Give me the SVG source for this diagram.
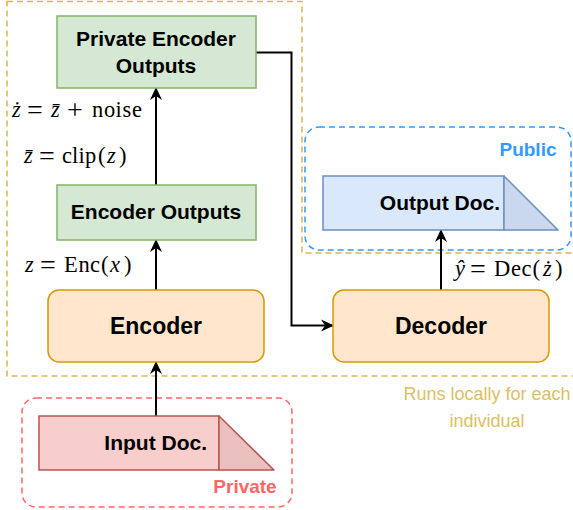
<svg xmlns="http://www.w3.org/2000/svg" width="573" height="510" viewBox="0 0 573 510">
  <style>
    .lbl { font-family: "Liberation Sans", Arial, sans-serif; font-weight: bold; fill: #000; }
    .math { font-family: "Liberation Serif", "Times New Roman", serif; font-size: 22.5px; fill: #000; }
    .mi { font-style: italic; }
    .op { font-size: 28px; }
    .green { fill: #d5e8d4; stroke: #82b366; stroke-width: 1.5; }
    .orange { fill: #ffe6cc; stroke: #d79b00; stroke-width: 1.5; }
    .edge { fill: none; stroke: #000; stroke-width: 2; }
  </style>
  <defs>
    <marker id="arrow" markerUnits="userSpaceOnUse" markerWidth="14" markerHeight="14" refX="12" refY="7" orient="auto">
      <path d="M0,1 L13,7 L0,13 L4,7 Z" fill="#000"/>
    </marker>
  </defs>

  <rect width="573" height="510" fill="#fff"/>

  <!-- group regions -->
  <g id="local-region">
    <path d="M7,1.5 H302 V253 H580 V376 H7 Z" fill="none" stroke="#d6b656" stroke-width="1.5" stroke-dasharray="6 4"/>
    <text x="487" y="400" text-anchor="middle" font-family="Liberation Sans, Arial, sans-serif" font-size="18" fill="#dcbf63">Runs locally for each</text>
    <text x="487" y="427" text-anchor="middle" font-family="Liberation Sans, Arial, sans-serif" font-size="18" fill="#dcbf63">individual</text>
  </g>
  <g id="public-region">
    <rect x="305" y="127" width="266" height="123" rx="14" fill="none" stroke="#3399ff" stroke-width="1.5" stroke-dasharray="6 4"/>
    <text x="528" y="155.5" text-anchor="middle" class="lbl" font-size="19" style="fill:#3399ff">Public</text>
  </g>
  <g id="private-region">
    <rect x="22" y="398" width="270" height="109" rx="14" fill="none" stroke="#ff6666" stroke-width="1.5" stroke-dasharray="6 4"/>
    <text x="245" y="492.5" text-anchor="middle" class="lbl" font-size="19" style="fill:#ff6666">Private</text>
  </g>

  <!-- connectors -->
  <g id="connectors">
    <line class="edge" x1="156" y1="416" x2="156" y2="362" marker-end="url(#arrow)"/>
    <line class="edge" x1="156" y1="290" x2="156" y2="240" marker-end="url(#arrow)"/>
    <line class="edge" x1="156" y1="185" x2="156" y2="88" marker-end="url(#arrow)"/>
    <polyline class="edge" points="256,52.5 291.5,52.5 291.5,325.5 333,325.5" marker-end="url(#arrow)"/>
    <line class="edge" x1="441" y1="290" x2="441" y2="230" marker-end="url(#arrow)"/>
  </g>

  <!-- edge labels (math set glyph by glyph; operators sit slightly lower) -->
  <g id="edge-labels">
    <text class="math"><tspan class="mi" x="12" y="117">ż</tspan><tspan class="op" x="27" y="119">=</tspan><tspan class="mi" x="51" y="117">z̄</tspan><tspan class="op" x="67" y="119">+</tspan><tspan x="92 104 115.5 122.5 132" y="117">noise</tspan></text>
    <text class="math"><tspan class="mi" x="24" y="163">z̄</tspan><tspan class="op" x="39" y="165">=</tspan><tspan x="62 72 78.5 85" y="163">clip</tspan><tspan x="98" y="163">(</tspan><tspan class="mi" x="107" y="163">z</tspan><tspan x="119" y="163">)</tspan></text>
    <text class="math"><tspan class="mi" x="25" y="272">z</tspan><tspan class="op" x="40" y="274">=</tspan><tspan x="64 78.5 90" y="272">Enc</tspan><tspan x="101" y="272">(</tspan><tspan class="mi" x="110" y="272">x</tspan><tspan x="124" y="272">)</tspan></text>
    <text class="math"><tspan class="mi" x="455" y="276">ŷ</tspan><tspan class="op" x="470" y="278">=</tspan><tspan x="494 511 521.5" y="276">Dec</tspan><tspan x="532.5" y="276">(</tspan><tspan class="mi" x="543" y="276">ż</tspan><tspan x="555" y="276">)</tspan></text>
  </g>

  <!-- nodes -->
  <g id="private-encoder-outputs">
    <rect class="green" x="57" y="16" width="199" height="72"/>
    <text class="lbl" x="156" y="46" text-anchor="middle" font-size="21">Private Encoder</text>
    <text class="lbl" x="156" y="72.5" text-anchor="middle" font-size="21">Outputs</text>
  </g>
  <g id="encoder-outputs">
    <rect class="green" x="57" y="185" width="199" height="55"/>
    <text class="lbl" x="156" y="219" text-anchor="middle" font-size="21">Encoder Outputs</text>
  </g>
  <g id="encoder">
    <rect class="orange" x="48" y="290" width="216" height="72" rx="11"/>
    <text class="lbl" x="156" y="333.5" text-anchor="middle" font-size="23">Encoder</text>
  </g>
  <g id="decoder">
    <rect class="orange" x="333" y="290" width="216" height="72" rx="11"/>
    <text class="lbl" x="441" y="333.5" text-anchor="middle" font-size="23">Decoder</text>
  </g>
  <g id="output-doc">
    <rect x="323" y="176" width="181" height="54" fill="#dae8fc" stroke="#6c8ebf" stroke-width="1.5"/>
    <path d="M504,176 L558,230 H504 Z" fill="#c9d8ee" stroke="#6c8ebf" stroke-width="1.5" stroke-linejoin="round"/>
    <text class="lbl" x="500" y="210" text-anchor="end" font-size="21">Output Doc.</text>
  </g>
  <g id="input-doc">
    <rect x="39" y="416" width="180" height="54" fill="#f8cecc" stroke="#b85450" stroke-width="1.5"/>
    <path d="M219,416 L274,470 H219 Z" fill="#e9c0be" stroke="#b85450" stroke-width="1.5" stroke-linejoin="round"/>
    <text class="lbl" x="207" y="450" text-anchor="end" font-size="21">Input Doc.</text>
  </g>
</svg>
